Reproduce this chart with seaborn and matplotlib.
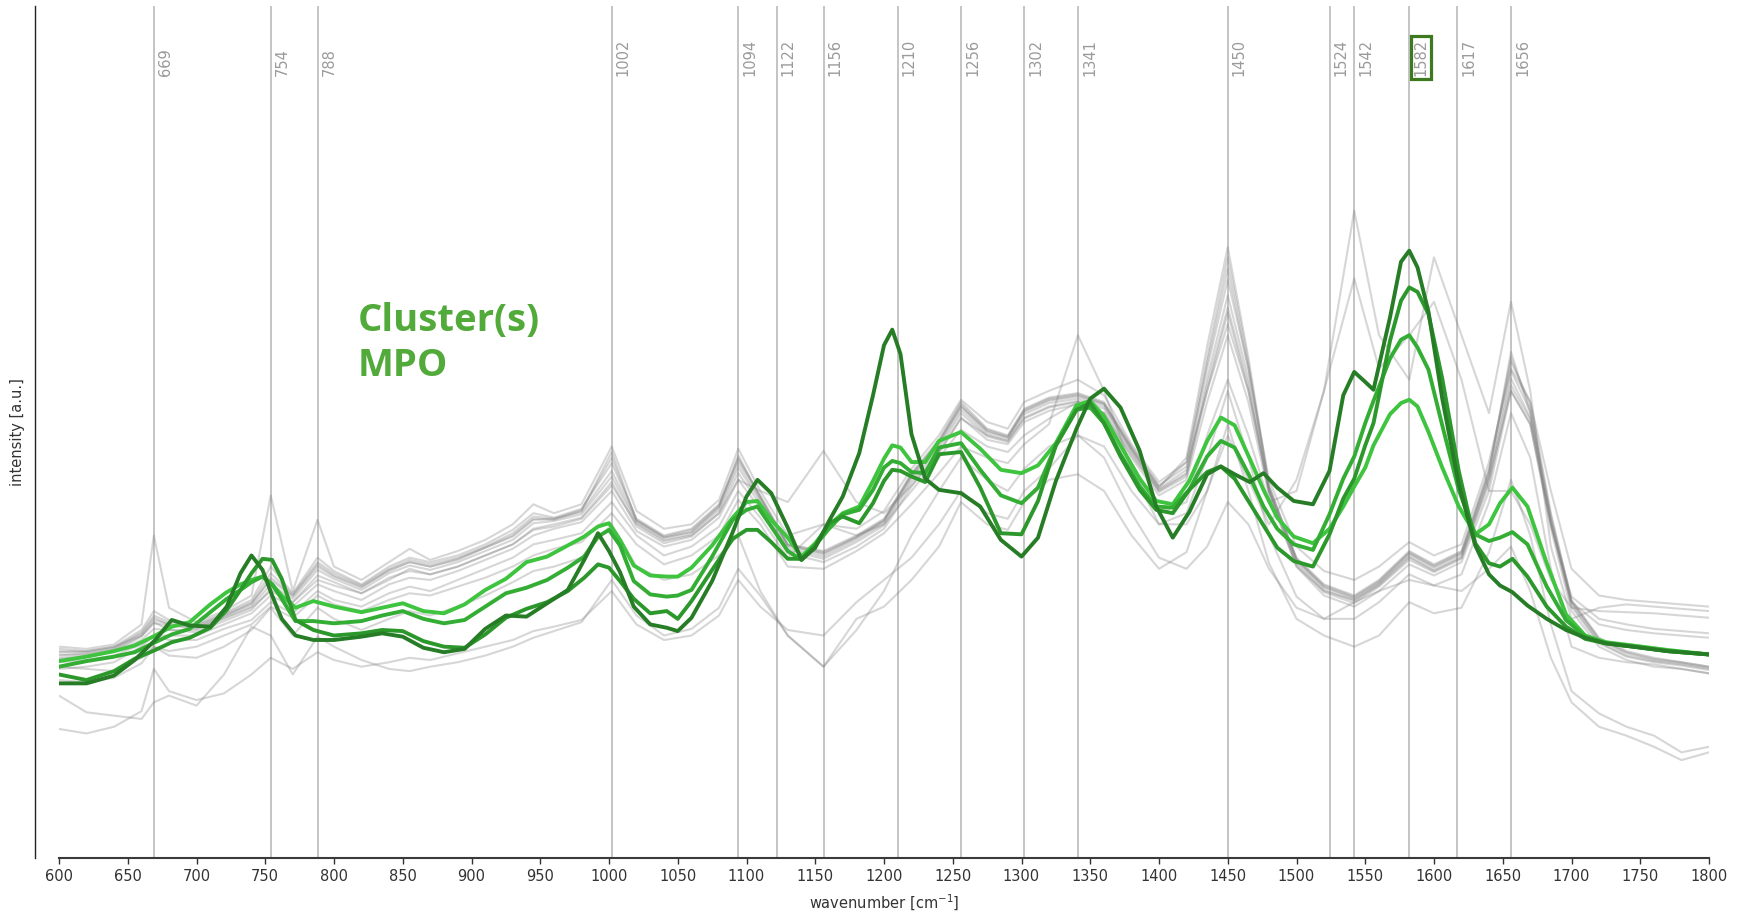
import numpy as np
import pandas as pd
import matplotlib
matplotlib.use("Agg")
import matplotlib.pyplot as plt
import seaborn as sns

# ---------------- data ----------------
PEAKS = [669, 754, 788, 1002, 1094, 1122, 1156, 1210, 1256, 1302, 1341,
         1450, 1524, 1542, 1582, 1617, 1656]
HIGHLIGHT_PEAK = 1582
XTICKS = list(range(600, 1801, 50))

# wavenumber grid of the grey (other cluster) spectra
XG = [600, 620, 640, 660, 669, 680, 700, 720, 740, 754,
      770, 788, 800, 820, 840, 855, 870, 890, 910, 930,
      945, 960, 980, 1002, 1020, 1040, 1060, 1080, 1094, 1110,
      1130, 1156, 1180, 1200, 1220, 1240, 1256, 1275, 1290, 1302,
      1320, 1341, 1360, 1380, 1400, 1420, 1435, 1450, 1465, 1480,
      1500, 1520, 1542, 1560, 1582, 1600, 1620, 1640, 1656, 1670,
      1685, 1700, 1720, 1740, 1760, 1780, 1800]

grey_1 = [179, 181, 186, 199, 211, 209, 206, 216, 226, 246,
          233, 259, 251, 241, 256, 263, 259, 266, 276, 286,
          301, 303, 309, 343, 301, 286, 291, 313, 351, 321,
          279, 271, 286, 301, 341, 371, 403, 381, 376, 399,
          409, 413, 406, 366, 331, 346, 431, 506, 431, 331,
          266, 241, 231, 246, 271, 259, 271, 341, 431, 396,
          301, 226, 193, 181, 176, 173, 169]
grey_2 = [185, 186, 190, 205, 222, 214, 210, 220, 232, 262,
          238, 270, 258, 246, 262, 270, 266, 272, 282, 295,
          310, 306, 314, 355, 305, 290, 296, 318, 358, 326,
          282, 276, 290, 305, 346, 376, 410, 386, 380, 404,
          414, 418, 410, 370, 335, 352, 420, 480, 420, 330,
          270, 246, 236, 250, 276, 264, 276, 350, 446, 410,
          310, 232, 198, 186, 180, 176, 172]
grey_3 = [176, 178, 182, 192, 200, 200, 200, 210, 220, 236,
          226, 246, 240, 232, 246, 252, 250, 258, 268, 278,
          290, 296, 302, 330, 294, 280, 286, 306, 340, 314,
          274, 266, 280, 296, 334, 364, 396, 376, 372, 392,
          402, 408, 400, 360, 326, 340, 410, 470, 410, 326,
          262, 236, 226, 240, 264, 254, 266, 330, 420, 390,
          296, 222, 190, 178, 172, 170, 166]
grey_4 = [182, 184, 188, 202, 216, 210, 208, 218, 228, 252,
          236, 264, 254, 244, 258, 266, 262, 268, 279, 290,
          305, 304, 312, 365, 303, 288, 293, 316, 362, 324,
          281, 274, 288, 303, 344, 374, 406, 384, 378, 402,
          412, 416, 408, 368, 333, 360, 460, 549, 450, 335,
          268, 244, 234, 248, 274, 262, 274, 346, 455, 400,
          305, 230, 196, 184, 178, 175, 171]
grey_5 = [190, 188, 192, 210, 290, 225, 212, 222, 236, 326,
          240, 304, 262, 250, 266, 278, 268, 276, 286, 300,
          318, 310, 318, 370, 312, 296, 300, 322, 368, 330,
          290, 300, 296, 312, 350, 380, 412, 392, 386, 410,
          420, 430, 416, 372, 338, 356, 440, 520, 440, 340,
          280, 258, 250, 262, 284, 272, 282, 356, 440, 410,
          330, 260, 236, 232, 230, 228, 226]
grey_6 = [170, 172, 176, 190, 200, 196, 196, 206, 214, 230,
          220, 240, 232, 226, 238, 244, 240, 250, 260, 270,
          282, 286, 292, 320, 290, 272, 280, 298, 330, 306,
          270, 300, 290, 300, 330, 360, 385, 370, 365, 380,
          395, 410, 400, 350, 310, 320, 380, 430, 380, 320,
          330, 420, 582, 470, 430, 540, 470, 400, 500, 420,
          280, 215, 225, 228, 226, 224, 222]
grey_7 = [172, 170, 168, 180, 190, 186, 190, 200, 210, 226,
          216, 236, 228, 222, 232, 238, 236, 244, 252, 262,
          272, 278, 284, 310, 282, 264, 272, 290, 322, 300,
          262, 260, 276, 292, 318, 346, 370, 360, 355, 372,
          390, 470, 420, 350, 300, 300, 330, 380, 340, 300,
          340, 420, 521, 440, 470, 500, 430, 330, 330, 300,
          250, 225, 222, 221, 220, 218, 216]
grey_8 = [146, 131, 128, 125, 140, 146, 137, 165, 208, 200,
          165, 199, 190, 178, 170, 168, 172, 176, 182, 190,
          198, 204, 212, 250, 218, 200, 206, 225, 260, 236,
          200, 172, 215, 226, 250, 280, 320, 300, 295, 320,
          340, 345, 330, 290, 260, 275, 330, 390, 330, 265,
          215, 200, 190, 200, 230, 220, 225, 275, 340, 290,
          210, 150, 130, 118, 110, 95, 100]
grey_9 = [116, 112, 118, 132, 170, 150, 142, 148, 165, 180,
          170, 185, 178, 172, 176, 180, 178, 184, 190, 196,
          204, 208, 214, 240, 210, 196, 200, 218, 250, 226,
          205, 200, 230, 250, 270, 300, 330, 310, 305, 330,
          350, 380, 360, 310, 270, 260, 280, 320, 300, 260,
          225, 215, 230, 240, 250, 245, 240, 260, 280, 240,
          180, 140, 118, 110, 100, 88, 95]
grey_10 = [160, 158, 162, 175, 190, 182, 180, 190, 205, 225,
           200, 225, 215, 205, 215, 222, 218, 226, 236, 248,
           258, 262, 270, 300, 262, 250, 255, 272, 290, 240,
           200, 172, 205, 240, 290, 330, 360, 340, 330, 350,
           370, 380, 370, 330, 300, 310, 360, 420, 360, 290,
           235, 215, 215, 230, 255, 245, 255, 320, 400, 360,
           260, 190, 180, 176, 174, 170, 166]
grey_11 = [188, 186, 190, 200, 212, 205, 205, 215, 225, 240,
           230, 250, 245, 238, 250, 260, 255, 262, 272, 282,
           295, 298, 305, 335, 300, 285, 290, 310, 340, 330,
           320, 366, 320, 310, 335, 365, 395, 380, 375, 395,
           405, 410, 400, 362, 330, 345, 420, 490, 420, 330,
           262, 240, 232, 245, 270, 258, 270, 340, 420, 390,
           300, 230, 210, 205, 202, 200, 198]
grey_12 = [183, 183, 187, 200, 214, 210, 207, 217, 229, 250,
           235, 262, 253, 243, 259, 266, 262, 269, 279, 289,
           304, 305, 311, 348, 303, 288, 293, 315, 355, 323,
           281, 273, 288, 303, 343, 373, 406, 383, 378, 401,
           411, 415, 408, 367, 332, 349, 445, 530, 440, 333,
           268, 243, 233, 247, 273, 261, 273, 344, 438, 402,
           303, 228, 194, 182, 177, 174, 170]
grey_13 = [180, 182, 185, 196, 206, 205, 203, 213, 223, 242,
           230, 254, 248, 238, 252, 258, 255, 262, 272, 282,
           296, 300, 306, 338, 298, 283, 289, 310, 346, 318,
           277, 269, 284, 299, 338, 368, 400, 379, 374, 396,
           406, 411, 404, 364, 329, 343, 425, 495, 425, 329,
           264, 239, 229, 244, 268, 257, 269, 336, 425, 394,
           300, 235, 215, 210, 206, 204, 202]
grey_14 = [186, 185, 189, 203, 218, 212, 209, 219, 230, 256,
           237, 266, 256, 245, 260, 268, 264, 270, 280, 292,
           307, 305, 313, 360, 304, 289, 295, 317, 360, 325,
           282, 275, 289, 304, 345, 375, 408, 385, 379, 403,
           413, 417, 409, 369, 334, 356, 450, 540, 445, 334,
           269, 245, 235, 249, 275, 263, 275, 348, 450, 405,
           308, 231, 197, 185, 179, 176, 172]

# wavenumber grid of the green (MPO cluster) spectra
XGR = [600, 620, 640, 655, 670, 682, 695, 710, 722, 732,
       740, 748, 755, 762, 772, 785, 800, 820, 835, 850,
       865, 880, 895, 910, 925, 940, 955, 970, 982, 992,
       1000, 1008, 1018, 1030, 1042, 1050, 1060, 1075, 1090, 1100,
       1108, 1118, 1130, 1140, 1150, 1160, 1170, 1182, 1192, 1200,
       1206, 1212, 1220, 1230, 1240, 1256, 1270, 1285, 1300, 1312,
       1325, 1340, 1350, 1360, 1372, 1386, 1398, 1410, 1422, 1435,
       1445, 1455, 1466, 1476, 1486, 1498, 1512, 1524, 1534, 1542,
       1550, 1556, 1568, 1576, 1582, 1588, 1596, 1606, 1618, 1630,
       1640, 1648, 1657, 1668, 1682, 1696, 1710, 1725, 1745, 1770,
       1800]

mpo_1 = [177, 181, 186, 191, 200, 208, 212, 228, 239, 246,
         250, 253, 246, 236, 225, 231, 226, 221, 225, 229,
         222, 220, 228, 241, 251, 266, 271, 281, 289, 298,
         301, 286, 263, 254, 253, 253, 261, 281, 306, 320,
         321, 304, 288, 271, 283, 299, 310, 316, 339, 359,
         371, 369, 356, 356, 375, 383, 368, 349, 346, 353,
         373, 407, 411, 397, 371, 341, 321, 318, 339, 375,
         396, 389, 359, 331, 306, 289, 283, 296, 316, 334,
         351, 371, 399, 409, 412, 406, 383, 351, 316, 291,
         300, 319, 333, 316, 265, 219, 200, 194, 191, 187,
         183]
mpo_2 = [172, 177, 181, 185, 194, 201, 206, 221, 233, 241,
         248, 253, 246, 233, 213, 213, 211, 213, 218, 222,
         215, 211, 214, 226, 238, 243, 250, 261, 271, 289,
         295, 281, 249, 237, 235, 236, 241, 271, 304, 313,
         316, 298, 276, 268, 281, 296, 309, 313, 331, 351,
         357, 355, 347, 346, 369, 373, 349, 326, 319, 333,
         371, 403, 405, 391, 363, 334, 316, 315, 331, 361,
         375, 369, 343, 316, 296, 282, 277, 309, 341, 361,
         391, 411, 449, 466, 470, 459, 439, 389, 331, 291,
         285, 288, 293, 282, 244, 214, 199, 193, 190, 186,
         183]
mpo_3 = [165, 160, 168, 179, 187, 194, 198, 207, 223, 241,
         256, 269, 268, 251, 214, 205, 200, 202, 205, 204,
         195, 190, 189, 201, 216, 224, 230, 240, 252, 264,
         261, 249, 233, 220, 222, 215, 231, 259, 287, 295,
         295, 284, 269, 269, 281, 301, 307, 301, 319, 339,
         349, 348, 343, 338, 363, 365, 333, 292, 291, 321,
         371, 403, 409, 391, 361, 331, 313, 310, 331, 347,
         352, 341, 319, 299, 279, 267, 262, 291, 323, 341,
         371, 391, 465, 501, 513, 509, 489, 431, 348, 283,
         265, 262, 269, 253, 226, 208, 197, 193, 190, 186,
         183]
mpo_4 = [157, 157, 164, 178, 196, 214, 209, 208, 226, 256,
         272, 259, 236, 215, 200, 196, 196, 199, 202, 199,
         189, 185, 188, 206, 218, 217, 229, 241, 268, 292,
         276, 257, 226, 210, 207, 204, 216, 249, 293, 325,
         340, 328, 297, 268, 279, 303, 325, 364, 416, 461,
         475, 453, 381, 341, 331, 328, 316, 286, 271, 288,
         339, 386, 413, 422, 405, 366, 316, 288, 311, 345,
         352, 345, 338, 346, 333, 321, 318, 348, 416, 437,
         428, 421, 486, 536, 546, 531, 491, 413, 336, 281,
         255, 245, 239, 227, 215, 205, 198, 193, 190, 186,
         183]

GREY_SPECTRA = [grey_1, grey_2, grey_3, grey_4, grey_5, grey_6, grey_7,
                grey_8, grey_9, grey_10, grey_11, grey_12, grey_13, grey_14]
GREEN_SPECTRA = {"MPO 1": mpo_1, "MPO 2": mpo_2, "MPO 3": mpo_3, "MPO 4": mpo_4}
GREEN_COLORS = {"MPO 1": "#3ec43e", "MPO 2": "#33ad33", "MPO 3": "#2c982c", "MPO 4": "#267d26"}

# ---------------- tables ----------------
for s in GREY_SPECTRA:
    if len(s) != len(XG):
        raise ValueError("grey spectrum length mismatch")
for k, s in GREEN_SPECTRA.items():
    if len(s) != len(XGR):
        raise ValueError("green spectrum length mismatch " + k)

grey_df = pd.DataFrame({
    "wavenumber": np.tile(XG, len(GREY_SPECTRA)),
    "intensity": np.concatenate([np.asarray(s, float) for s in GREY_SPECTRA]),
    "spectrum": np.repeat(np.arange(len(GREY_SPECTRA)), len(XG)),
})
green_df = pd.DataFrame({
    "wavenumber": np.tile(XGR, len(GREEN_SPECTRA)),
    "intensity": np.concatenate([np.asarray(s, float) for s in GREEN_SPECTRA.values()]),
    "cluster": np.repeat(list(GREEN_SPECTRA.keys()), len(XGR)),
})

# ---------------- plot ----------------
sns.set_style("white")
plt.rcParams["font.family"] = ["DejaVu Sans"]
plt.rcParams["lines.solid_joinstyle"] = "round"
plt.rcParams["lines.solid_capstyle"] = "round"

fig = plt.figure(figsize=(17.46, 9.14), dpi=100)
ax = fig.add_axes([59 / 1746, 56 / 914, 1650 / 1746, 852 / 914])

for p in PEAKS:
    ax.axvline(p, color="#b4b4b4", lw=1.1, zorder=0)

sns.lineplot(data=grey_df, x="wavenumber", y="intensity", units="spectrum",
             estimator=None, color="#7a7a7a", alpha=0.3, lw=1.5,
             legend=False, ax=ax, zorder=2)
sns.lineplot(data=green_df, x="wavenumber", y="intensity", hue="cluster",
             hue_order=list(GREEN_SPECTRA.keys()), palette=GREEN_COLORS,
             estimator=None, lw=2.8, legend=False, ax=ax, zorder=3)

for p in PEAKS:
    kw = {}
    if p == HIGHLIGHT_PEAK:
        kw["bbox"] = dict(boxstyle="square,pad=0.2", fc="none", ec="#3d7a1f", lw=2.3)
    ax.annotate(str(p), xy=(p, 0.918), xycoords=("data", "axes fraction"),
                xytext=(3, 0), textcoords="offset points", rotation=90,
                ha="left", va="bottom", fontsize=10.5, color="#9a9a9a", **kw)

ax.set_xlim(600, 1800)
ax.set_ylim(0, 766)
ax.set_xticks(XTICKS)
ax.set_yticks([])
ax.tick_params(axis="x", length=4, width=1, color="#333333", labelsize=10.5,
               labelcolor="#333333", pad=4, bottom=True)

for side in ("top", "right"):
    ax.spines[side].set_visible(False)
ax.spines["left"].set_position(("outward", 17))
ax.spines["left"].set_color("#222222")
ax.spines["left"].set_linewidth(1.0)
ax.spines["bottom"].set_color("#3a3a3a")
ax.spines["bottom"].set_linewidth(1.5)

ax.set_xlabel("wavenumber [cm$^{-1}$]", fontsize=10.5, color="#333333")
ax.set_ylabel("intensity [a.u.]", fontsize=10.5, color="#333333")
ax.xaxis.set_label_coords(0.5, -0.041)
ax.yaxis.set_label_coords(-0.0205, 0.5)

fig.text(358 / 1746, 1 - 302 / 914, "Cluster(s)\nMPO", ha="left", va="top",
         fontsize=27.5, fontweight="bold", color="#52aa3a", linespacing=1.25,
         family=["Open Sans", "DejaVu Sans"])

fig.savefig("out.png", dpi=100)
